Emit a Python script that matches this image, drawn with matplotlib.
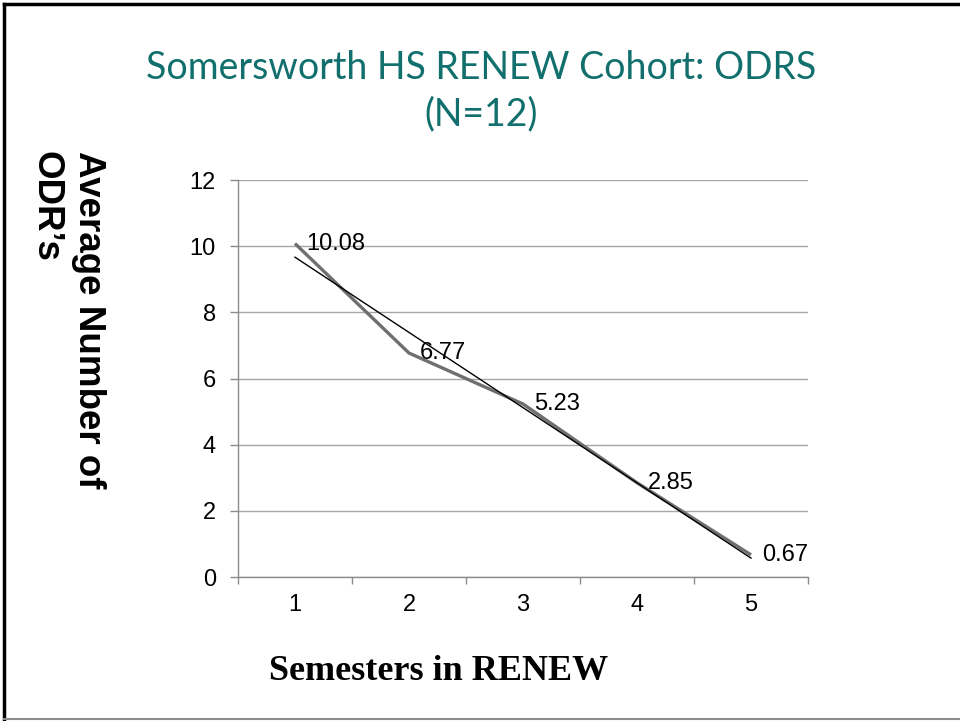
# -*- coding: UTF-8 -*-

import numpy as np
import matplotlib
matplotlib.use('Agg')
import matplotlib.pyplot as plt
from matplotlib.lines import Line2D


# =========================
# data
# =========================

semesters = [1, 2, 3, 4, 5]
avg_odrs = [10.08, 6.77, 5.23, 2.85, 0.67]
y_ticks = [0, 2, 4, 6, 8, 10, 12]

title = 'Somersworth HS RENEW Cohort: ODRS\n(N=12)'
y_label = 'Average Number of\nODR\u2019s'
x_label = 'Semesters in RENEW'


# =========================
# plot
# =========================

fig = plt.figure(figsize=(9.6, 7.21), dpi=100)
ax = fig.add_axes([0.2479, 0.1997, 0.59375, 0.5506])

ax.plot(semesters, avg_odrs, color='#6f6f6f', lw=2.4, solid_capstyle='butt', zorder=3)

# linear trend line
slope, intercept = np.polyfit(semesters, avg_odrs, 1)
trend = [slope * s + intercept for s in semesters]
ax.plot(semesters, trend, color='black', lw=1.0, zorder=4)

for s, v in zip(semesters, avg_odrs):
    ax.annotate('{:.2f}'.format(v), (s, v), xytext=(8, 0), textcoords='offset points',
                ha='left', va='center', fontsize=17, family='Liberation Sans', zorder=5)

ax.set_xlim(0.5, 5.5)
ax.set_ylim(0, 12)
ax.set_yticks(y_ticks)
ax.set_xticks(semesters)
ax.set_xticks([x + 0.5 for x in [0] + semesters], minor=True)
ax.grid(axis='y', color='#a6a6a6', lw=1.0)
ax.set_axisbelow(True)

for side in ['top', 'right']:
    ax.spines[side].set_visible(False)
for side in ['left', 'bottom']:
    ax.spines[side].set_color('#8c8c8c')
    ax.spines[side].set_linewidth(1.0)

ax.tick_params(axis='y', length=6, width=1, color='#8c8c8c', pad=10, labelsize=17)
ax.tick_params(axis='x', which='major', length=0, pad=12, labelsize=17)
ax.tick_params(axis='x', which='minor', length=5, width=1, color='#8c8c8c')
for lbl in ax.get_xticklabels() + ax.get_yticklabels():
    lbl.set_family('Liberation Sans')

fig.text(0.501, 0.874, title, ha='center', va='center', fontsize=27,
         family='Lato', color='#11706d', linespacing=1.35)
fig.text(0.07, 0.79, y_label, rotation=-90, ha='center', va='top', multialignment='left',
         fontsize=26.5, fontweight='bold', family='Liberation Sans', linespacing=1.3)
fig.text(0.457, 0.068, x_label, ha='center', va='center', fontsize=26,
         fontweight='bold', family='Liberation Serif')

# slide frame
fig.add_artist(Line2D([0.004, 1.0], [0.9945, 0.9945], color='black', lw=2.5, transform=fig.transFigure))
fig.add_artist(Line2D([0.004, 0.004], [0.003, 0.9945], color='black', lw=2.5, transform=fig.transFigure))
fig.add_artist(Line2D([0.004, 1.0], [0.003, 0.003], color='#8c8c8c', lw=1.5, transform=fig.transFigure))

fig.savefig('out.png', dpi=100)
plt.close('all')
